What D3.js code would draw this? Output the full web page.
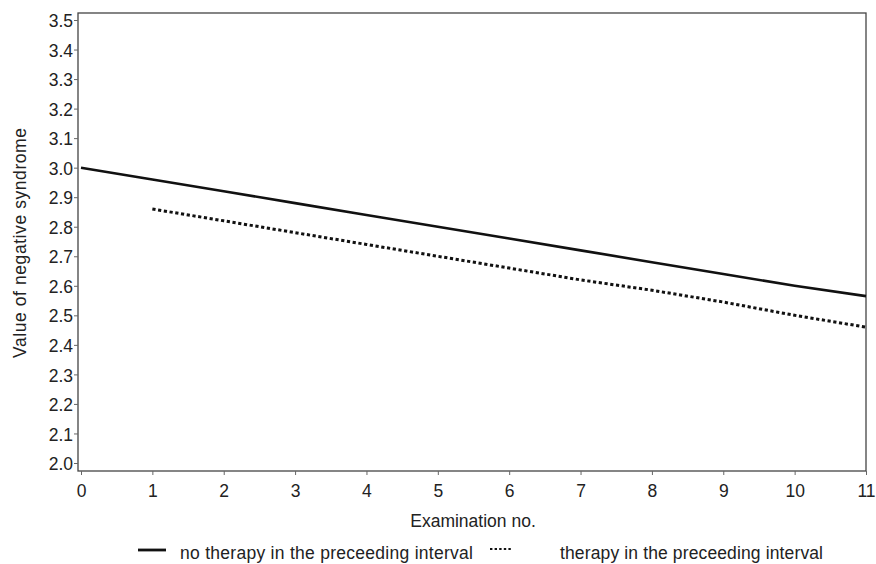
<!DOCTYPE html>
<html>
<head>
<meta charset="utf-8">
<script src="https://cdn.jsdelivr.net/npm/d3@7"></script>
<style>
  body { margin: 0; background: #fff; }
  text { font-family: "Liberation Sans", Arial, sans-serif; fill: #222; }
</style>
</head>
<body>
<svg id="chart" width="876" height="564"></svg>
<script>
// examination numbers and model values
const examNo = [0, 1, 2, 3, 4, 5, 6, 7, 8, 9, 10, 11];
const noTherapy = [3.0, 2.96, 2.92, 2.88, 2.84, 2.80, 2.76, 2.72, 2.68, 2.64, 2.60, 2.565];
const therapyExam = [1, 2, 3, 4, 5, 6, 7, 8, 9, 10, 11];
const therapy = [2.86, 2.82, 2.78, 2.74, 2.70, 2.66, 2.62, 2.585, 2.545, 2.50, 2.46];
const yTicks = [2.0, 2.1, 2.2, 2.3, 2.4, 2.5, 2.6, 2.7, 2.8, 2.9, 3.0, 3.1, 3.2, 3.3, 3.4, 3.5];
const xTicks = examNo;
const legendLabels = ["no therapy in the preceeding interval", "therapy in the preceeding interval"];

const svg = d3.select("#chart");
const frame = { left: 78, right: 866, top: 13, bottom: 471 };
const fontSize = "17.5px";

const x = d3.scaleLinear().domain([0, 11]).range([81, 866]);
const y = d3.scaleLinear().domain([2.0, 3.5]).range([463, 20]);

// frame box
svg.append("rect")
    .attr("x", frame.left)
    .attr("y", frame.top)
    .attr("width", frame.right - frame.left)
    .attr("height", frame.bottom - frame.top)
    .attr("fill", "none")
    .attr("stroke", "#444")
    .attr("stroke-width", 1.3);

// y axis
const yAxis = svg.append("g")
    .attr("transform", `translate(${frame.left},0)`)
    .call(d3.axisLeft(y).tickValues(yTicks).tickFormat(d3.format(".1f")).tickSize(4).tickSizeOuter(0));
yAxis.select(".domain").remove();
yAxis.selectAll("line").attr("stroke", "#666");
yAxis.selectAll("text")
    .attr("x", -5)
    .attr("dy", "0.38em")
    .style("font-size", fontSize)
    .style("font-family", "Liberation Sans, Arial, sans-serif")
    .attr("fill", "#222");

// x axis
const xAxis = svg.append("g")
    .attr("transform", `translate(0,${frame.bottom})`)
    .call(d3.axisBottom(x).tickValues(xTicks).tickFormat(d3.format("d")).tickSize(4).tickSizeOuter(0));
xAxis.select(".domain").remove();
xAxis.selectAll("line").attr("stroke", "#666");
xAxis.selectAll("text")
    .attr("y", 13.5)
    .style("font-size", fontSize)
    .style("font-family", "Liberation Sans, Arial, sans-serif")
    .attr("fill", "#222");

// axis titles
svg.append("text")
    .attr("x", 473)
    .attr("y", 527)
    .attr("text-anchor", "middle")
    .style("font-size", fontSize)
    .text("Examination no.");

svg.append("text")
    .attr("transform", `translate(26,243) rotate(-90)`)
    .attr("text-anchor", "middle")
    .attr("textLength", 230)
    .attr("lengthAdjust", "spacing")
    .style("font-size", fontSize)
    .text("Value of negative syndrome");

// lines
const line = d3.line()
    .x(d => x(d[0]))
    .y(d => y(d[1]));

svg.append("path")
    .datum(d3.zip(examNo, noTherapy))
    .attr("d", line)
    .attr("fill", "none")
    .attr("stroke", "#111")
    .attr("stroke-width", 2.6);

svg.append("path")
    .datum(d3.zip(therapyExam, therapy))
    .attr("d", line)
    .attr("fill", "none")
    .attr("stroke", "#111")
    .attr("stroke-width", 3)
    .attr("stroke-dasharray", "3.2,2.6");

// legend
const legY = 550;
svg.append("line")
    .attr("x1", 138).attr("x2", 166)
    .attr("y1", legY).attr("y2", legY)
    .attr("stroke", "#111").attr("stroke-width", 2.8);
svg.append("text")
    .attr("x", 180).attr("y", 559)
    .attr("textLength", 293)
    .attr("lengthAdjust", "spacing")
    .style("font-size", fontSize)
    .text(legendLabels[0]);
svg.append("line")
    .attr("x1", 490).attr("x2", 513)
    .attr("y1", legY - 1).attr("y2", legY - 1)
    .attr("stroke", "#111").attr("stroke-width", 2.2)
    .attr("stroke-dasharray", "2.4,2.2");
svg.append("text")
    .attr("x", 560).attr("y", 559)
    .attr("textLength", 263)
    .attr("lengthAdjust", "spacing")
    .style("font-size", fontSize)
    .text(legendLabels[1]);
</script>
</body>
</html>
